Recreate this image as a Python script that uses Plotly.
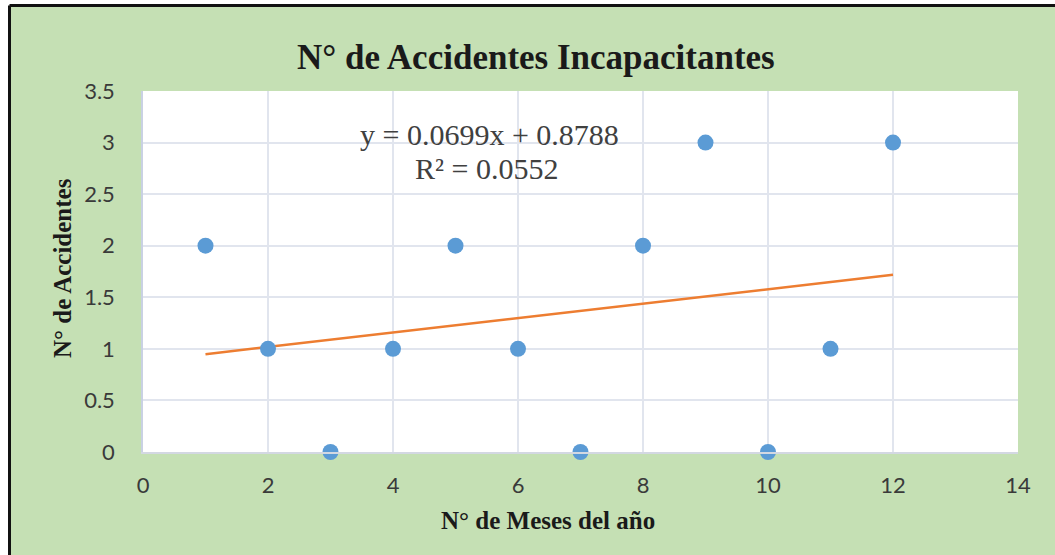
import plotly.graph_objects as go

# Data
months = [1, 2, 3, 4, 5, 6, 7, 8, 9, 10, 11, 12]
accidents = [2, 1, 0, 1, 2, 1, 0, 2, 3, 0, 1, 3]
slope = 0.0699
intercept = 0.8788
r_squared = 0.0552
x_ticks = [0, 2, 4, 6, 8, 10, 12, 14]
y_ticks = [0, 0.5, 1, 1.5, 2, 2.5, 3, 3.5]

title_text = "N° de Accidentes Incapacitantes"
x_title = "N° de Meses del año"
y_title = "N° de Accidentes"

W, H = 1055, 555
L, R, T, B = 143, 37, 91, 103
pw, ph = W - L - R, H - T - B

def px(x):
    return (x - L) / pw

def py(y):
    return (H - B - y) / ph

trend_x = [months[0], months[-1]]
trend_y = [slope * v + intercept for v in trend_x]

fig = go.Figure()
fig.add_trace(go.Scatter(x=trend_x, y=trend_y, mode="lines",
                         line=dict(color="#ED7D31", width=2.5),
                         showlegend=False, hoverinfo="skip"))
fig.add_trace(go.Scatter(x=months, y=accidents, mode="markers",
                         marker=dict(color="#5B9BD5", size=16, line=dict(width=0)),
                         cliponaxis=False, showlegend=False))

serif = "Liberation Serif, Times New Roman, serif"
sans = "Lato, Open Sans, sans-serif"

fig.update_layout(
    width=W, height=H,
    margin=dict(l=L, r=R, t=T, b=B, autoexpand=False),
    paper_bgcolor="#C5E0B4",
    plot_bgcolor="#FFFFFF",
    showlegend=False,
    xaxis=dict(range=[0, 14], tickvals=x_ticks, ticktext=[str(v) for v in x_ticks],
               showgrid=True, gridcolor="#E1E5EE", gridwidth=1.5,
               zeroline=False, showline=True, linecolor="#D3D8E2", linewidth=1.5,
               ticks="", ticklabelstandoff=13,
               tickfont=dict(family=sans, size=22, color="#3A3A3A")),
    yaxis=dict(range=[0, 3.5], tickvals=y_ticks,
               ticktext=["0", "0.5", "1", "1.5", "2", "2.5", "3", "3.5"],
               showgrid=True, gridcolor="#E1E5EE", gridwidth=1.5,
               zeroline=False, showline=True, linecolor="#C9D1E3", linewidth=1.5,
               ticks="", ticklabelstandoff=22,
               tickfont=dict(family=sans, size=22, color="#3A3A3A")),
    shapes=[
        # white strip outside the frame
        dict(type="rect", xref="paper", yref="paper", x0=px(-20), x1=px(W + 20),
             y0=py(5), y1=py(-20), fillcolor="#FFFFFF", line=dict(width=0), layer="above"),
        dict(type="rect", xref="paper", yref="paper", x0=px(-20), x1=px(9.5),
             y0=py(H + 20), y1=py(-20), fillcolor="#FFFFFF", line=dict(width=0), layer="above"),
        # black frame lines
        dict(type="line", xref="paper", yref="paper", x0=px(9.5), x1=px(W + 20),
             y0=py(5.5), y1=py(5.5), line=dict(color="#111111", width=3), layer="above"),
        dict(type="line", xref="paper", yref="paper", x0=px(9.5), x1=px(9.5),
             y0=py(5.5), y1=py(H + 20), line=dict(color="#111111", width=3), layer="above"),
    ],
    annotations=[
        dict(text="<b>" + title_text + "</b>", xref="paper", yref="paper",
             x=px(536), y=py(57), xanchor="center", yanchor="middle", showarrow=False,
             font=dict(family=serif, size=35, color="#1A1A1A")),
        dict(text="<b>" + x_title + "</b>", xref="paper", yref="paper",
             x=px(548), y=py(520), xanchor="center", yanchor="middle", showarrow=False,
             font=dict(family=serif, size=25, color="#1A1A1A")),
        dict(text="<b>" + y_title + "</b>", xref="paper", yref="paper",
             x=px(62), y=py(268), xanchor="center", yanchor="middle", showarrow=False,
             textangle=-90, font=dict(family=serif, size=25, color="#1A1A1A")),
        dict(text=f"y = {slope:.4f}x + {intercept:.4f}", xref="paper", yref="paper",
             x=px(489), y=py(135), xanchor="center", yanchor="middle", showarrow=False,
             font=dict(family=serif, size=30, color="#404040")),
        dict(text=f"R² = {r_squared:.4f}", xref="paper", yref="paper",
             x=px(486), y=py(168), xanchor="center", yanchor="middle", showarrow=False,
             font=dict(family=serif, size=30, color="#404040")),
    ],
)

fig.write_html("out.html", config={"displayModeBar": False},
               post_script="document.body.style.margin='0';document.body.style.overflow='hidden';")
